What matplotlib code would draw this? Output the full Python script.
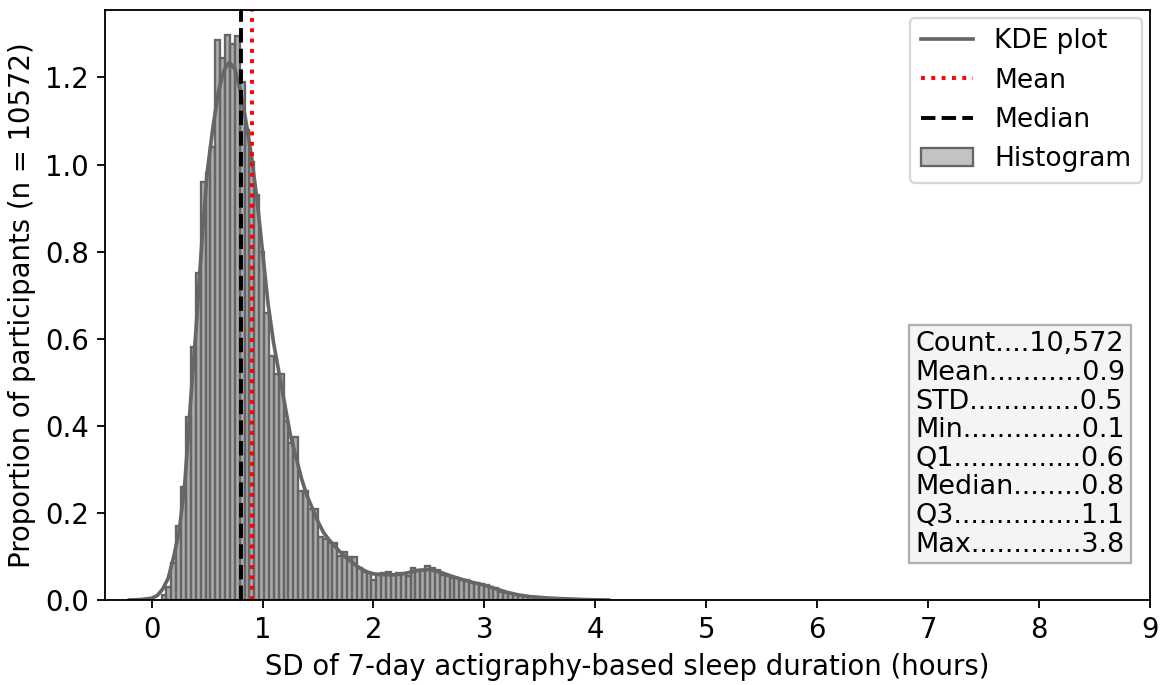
import numpy as np
import matplotlib
matplotlib.use("Agg")
import matplotlib.pyplot as plt
from matplotlib.lines import Line2D
from matplotlib.patches import Patch

# ---------------- data ----------------
hist_start = 0.09
hist_binwidth = 0.044
hist_density = [
    0.012, 0.030, 0.085, 0.170, 0.260, 0.420, 0.580, 0.750, 0.960, 0.980,
    1.040, 1.285, 1.245, 1.297, 1.278, 1.296, 1.190, 1.080, 1.005, 0.930,
    0.800, 0.660, 0.560, 0.520, 0.520, 0.410, 0.360, 0.375, 0.250, 0.250,
    0.210, 0.210, 0.145, 0.140, 0.130, 0.130, 0.100, 0.110, 0.098, 0.098,
    0.073, 0.065, 0.061, 0.046, 0.057, 0.061, 0.065, 0.057, 0.061, 0.060,
    0.054, 0.073, 0.069, 0.070, 0.078, 0.073, 0.070, 0.057, 0.055, 0.050,
    0.050, 0.047, 0.046, 0.038, 0.038, 0.037, 0.035, 0.029, 0.027, 0.019,
    0.015, 0.013, 0.012, 0.010, 0.009, 0.007, 0.006, 0.005, 0.005, 0.004,
    0.004, 0.003, 0.003, 0.002, 0.002,
]

kde_x = [-0.20, -0.10, 0.00, 0.05, 0.10, 0.15, 0.20, 0.25, 0.30, 0.35,
         0.40, 0.45, 0.50, 0.55, 0.60, 0.65, 0.70, 0.75, 0.80, 0.85,
         0.90, 0.95, 1.00, 1.05, 1.10, 1.15, 1.20, 1.25, 1.30, 1.35,
         1.40, 1.45, 1.50, 1.55, 1.60, 1.65, 1.70, 1.75, 1.80, 1.85,
         1.90, 1.95, 2.00, 2.10, 2.20, 2.30, 2.40, 2.50, 2.60, 2.70,
         2.80, 2.90, 3.00, 3.10, 3.20, 3.30, 3.40, 3.50, 3.60, 3.70,
         3.80, 3.90, 4.00, 4.12]
kde_y = [0.000, 0.001, 0.004, 0.010, 0.025, 0.050, 0.100, 0.160, 0.270, 0.450,
         0.620, 0.810, 0.980, 1.080, 1.165, 1.215, 1.235, 1.220, 1.170, 1.100,
         1.020, 0.920, 0.800, 0.680, 0.590, 0.520, 0.450, 0.380, 0.330, 0.280,
         0.240, 0.210, 0.180, 0.155, 0.138, 0.124, 0.110, 0.098, 0.088, 0.078,
         0.070, 0.064, 0.060, 0.058, 0.058, 0.062, 0.068, 0.070, 0.064, 0.055,
         0.047, 0.040, 0.034, 0.026, 0.018, 0.012, 0.008, 0.006, 0.004, 0.003,
         0.002, 0.001, 0.0005, 0.000]

mean_val = 0.905
median_val = 0.805

stats_labels = ["Count", "Mean", "STD", "Min", "Q1", "Median", "Q3", "Max"]
stats_values = ["10,572", "0.9", "0.5", "0.1", "0.6", "0.8", "1.1", "3.8"]
stats_dots = [4, 11, 13, 14, 15, 8, 15, 13]

x_ticks = [0, 1, 2, 3, 4, 5, 6, 7, 8, 9]
y_ticks = [0.0, 0.2, 0.4, 0.6, 0.8, 1.0, 1.2]

# ---------------- plot ----------------
plt.rcParams['font.family'] = ['DejaVu Sans']
plt.rcParams['font.size'] = 12

fig = plt.figure(figsize=(1163 / 165, 685 / 165), dpi=165)
ax = fig.add_axes([105 / 1163, 85 / 685, 1045 / 1163, 590 / 685])

bar_face = (0.41, 0.41, 0.41, 0.55)
bar_edge = '#656565'
edges = hist_start + hist_binwidth * np.arange(len(hist_density))
ax.bar(edges, hist_density, width=hist_binwidth, align='edge',
       facecolor=bar_face, edgecolor=bar_edge, linewidth=1.0)

ax.plot(kde_x, kde_y, color='#666666', lw=1.6)
ax.axvline(mean_val, color='red', ls=':', lw=1.7)
ax.axvline(median_val, color='black', ls='--', lw=1.7)

ax.set_xlim(-0.42, 9.0)
ax.set_ylim(0, 1.355)
ax.set_xticks(x_ticks)
ax.set_yticks(y_ticks)
ax.set_yticklabels([f"{v:.1f}" for v in y_ticks])
ax.set_xlabel("SD of 7-day actigraphy-based sleep duration (hours)")
ax.set_ylabel("Proportion of participants (n = 10572)")

handles = [
    Line2D([], [], color='#666666', lw=1.6),
    Line2D([], [], color='red', ls=':', lw=1.7),
    Line2D([], [], color='black', ls='--', lw=1.7),
    Patch(facecolor=(0.41, 0.41, 0.41, 0.4), edgecolor=bar_edge, linewidth=1.0),
]
ax.legend(handles, ["KDE plot", "Mean", "Median", "Histogram"], loc='upper right',
          fontsize=11.5, labelspacing=0.5, borderaxespad=0.3)

lines = [f"{lab}{'.' * nd}{val}" for lab, nd, val in zip(stats_labels, stats_dots, stats_values)]
ax.text(0.9765, 0.072, "\n".join(lines), transform=ax.transAxes,
        ha='right', va='bottom', multialignment='left', linespacing=1.13,
        fontsize=11.8,
        bbox=dict(boxstyle='square,pad=0.22', facecolor='#f4f4f4', edgecolor='#b0b0b0', lw=1.0))

fig.savefig("out.png", dpi=165)
